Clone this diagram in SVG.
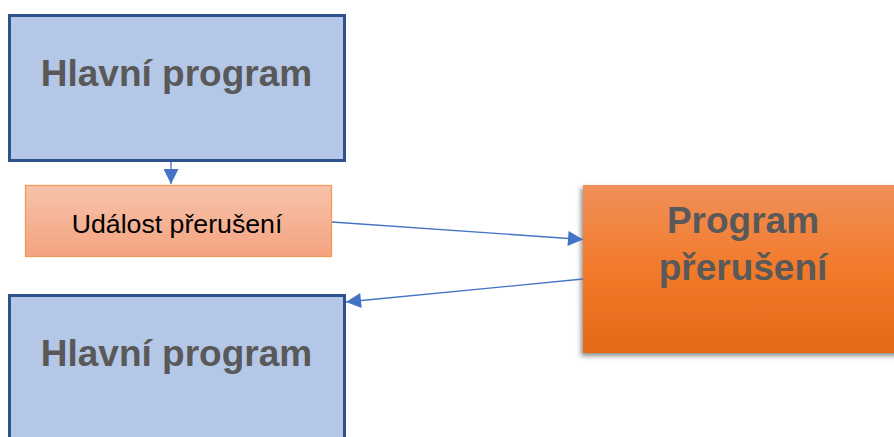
<svg xmlns="http://www.w3.org/2000/svg" width="894" height="437" viewBox="0 0 894 437">
  <defs>
    <linearGradient id="gEvent" x1="0" y1="0" x2="0" y2="1">
      <stop offset="0" stop-color="#f7c3aa"/>
      <stop offset="1" stop-color="#f4a380"/>
    </linearGradient>
    <linearGradient id="gIsr" x1="0" y1="0" x2="0" y2="1">
      <stop offset="0" stop-color="#f0905a"/>
      <stop offset="0.5" stop-color="#f27a2a"/>
      <stop offset="1" stop-color="#e46918"/>
    </linearGradient>
    <filter id="shadow" x="-10%" y="-10%" width="120%" height="130%">
      <feDropShadow dx="-2" dy="3" stdDeviation="2.5" flood-color="#000" flood-opacity="0.45"/>
    </filter>
    <marker id="arrow" viewBox="0 0 10 10" refX="10" refY="5" markerUnits="userSpaceOnUse" markerWidth="16" markerHeight="15" orient="auto">
      <path d="M0,0 L10,5 L0,10 Z" fill="#4472c4"/>
    </marker>
    <style>
      .main { fill: #b4c7e7; stroke: #2f528f; stroke-width: 3; }
      .big { font-family: "Liberation Sans", Arial, sans-serif; font-weight: bold; font-size: 37px; fill: #595959; text-anchor: middle; }
      .small { font-family: "Liberation Sans", Arial, sans-serif; font-size: 26.7px; fill: #000; text-anchor: middle; }
      .conn { stroke: #4472c4; stroke-width: 1.3; fill: none; marker-end: url(#arrow); }
    </style>
  </defs>

  <g id="main-top">
    <rect class="main" x="9.5" y="15.5" width="335" height="145"/>
    <text class="big" x="176.5" y="86">Hlavní program</text>
  </g>

  <g id="event">
    <rect x="25.5" y="185.5" width="306" height="71" fill="url(#gEvent)" stroke="#f39a55" stroke-width="1.3"/>
    <text class="small" x="177" y="233">Událost přerušení</text>
  </g>

  <g id="isr">
    <rect x="583" y="185" width="320" height="168" fill="url(#gIsr)" filter="url(#shadow)"/>
    <text class="big" x="743" y="233">Program</text>
    <text class="big" x="743" y="280">přerušení</text>
  </g>

  <g id="main-bottom">
    <rect class="main" x="9.5" y="295.5" width="335" height="160"/>
    <text class="big" x="176.5" y="366">Hlavní program</text>
  </g>

  <g id="connectors">
    <line class="conn" x1="171" y1="162" x2="171" y2="184"/>
    <line class="conn" x1="332" y1="222" x2="583" y2="239.5"/>
    <line class="conn" x1="583" y1="279" x2="346" y2="302"/>
  </g>
</svg>
